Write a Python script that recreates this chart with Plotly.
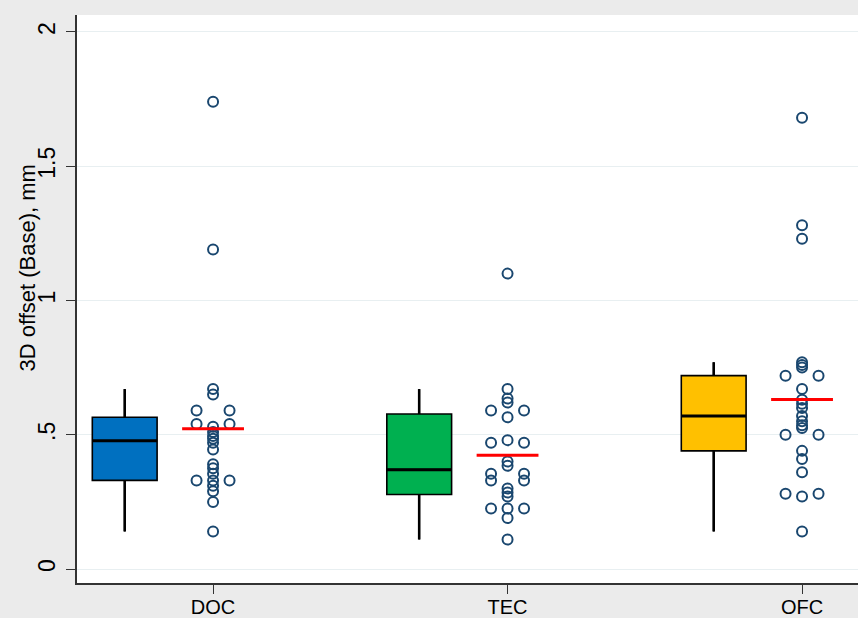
import math
import plotly.graph_objects as go

# Categories and per-subject 3D offsets (mm)
categories = ["DOC", "TEC", "OFC"]
doc_values = [1.74, 1.19, 0.67, 0.65, 0.59, 0.59, 0.54, 0.54, 0.53, 0.51, 0.495, 0.485,
              0.47, 0.445, 0.39, 0.375, 0.355, 0.33, 0.33, 0.33, 0.31, 0.29, 0.25, 0.14]
tec_values = [1.10, 0.67, 0.635, 0.62, 0.59, 0.59, 0.565, 0.48, 0.47, 0.47, 0.40, 0.385,
              0.355, 0.355, 0.33, 0.33, 0.30, 0.285, 0.27, 0.225, 0.225, 0.225, 0.19, 0.11]
ofc_values = [1.68, 1.28, 1.23, 0.77, 0.76, 0.75, 0.72, 0.72, 0.67, 0.63, 0.615, 0.60, 0.57,
              0.55, 0.535, 0.525, 0.50, 0.50, 0.44, 0.41, 0.36, 0.28, 0.28, 0.27, 0.14]
group_values = [doc_values, tec_values, ofc_values]
box_colors = ["#0070C0", "#00B050", "#FFC000"]

y_tick_vals = [0, 0.5, 1, 1.5, 2]
y_tick_text = ["0", ".5", "1", "1.5", "2"]
y_title = "3D offset (Base), mm"

DOT_COLOR = "#1a476f"
BOX_SHIFT = -0.30      # box drawn to the left of the strip of points
BOX_WIDTH = 0.22
MEAN_HALF = 0.105
TIE_STEP = 0.056


def pctile(vals, p):
    s = sorted(vals)
    n = len(s)
    pos = n * p
    if abs(pos - round(pos)) < 1e-9:
        k = int(round(pos))
        return (s[k - 1] + s[k]) / 2
    return s[math.ceil(pos) - 1]


def tie_offsets(vals):
    """Spread tied values side by side around the category centre."""
    counts = {}
    for v in vals:
        counts[v] = counts.get(v, 0) + 1
    used = {}
    out = []
    for v in vals:
        n = counts[v]
        if n % 2:
            slots = list(range(-(n // 2), n // 2 + 1))
        else:
            half = list(range(1, n // 2 + 1))
            slots = sorted([-h for h in half] + half)
        i = used.get(v, 0)
        used[v] = i + 1
        out.append(slots[i] * TIE_STEP)
    return out


fig = go.Figure()

for i, (vals, color) in enumerate(zip(group_values, box_colors)):
    cx = i + 1
    bx = cx + BOX_SHIFT
    q1 = pctile(vals, 0.25)
    med = pctile(vals, 0.50)
    q3 = pctile(vals, 0.75)
    iqr = q3 - q1
    upper = max(v for v in vals if v <= q3 + 1.5 * iqr)
    lower = min(v for v in vals if v >= q1 - 1.5 * iqr)

    fig.add_trace(go.Box(
        x=[bx], q1=[q1], median=[med], q3=[q3],
        lowerfence=[lower], upperfence=[upper],
        width=BOX_WIDTH, whiskerwidth=0, boxpoints=False,
        fillcolor=color, line=dict(color="black", width=1.6),
        hoverinfo="skip", showlegend=False,
    ))
    # heavier whiskers and median bar
    for y0, y1 in [(q3, upper), (lower, q1)]:
        fig.add_trace(go.Scatter(
            x=[bx, bx], y=[y0, y1], mode="lines",
            line=dict(color="black", width=2.6),
            hoverinfo="skip", showlegend=False,
        ))
    fig.add_trace(go.Scatter(
        x=[bx - BOX_WIDTH / 2, bx + BOX_WIDTH / 2], y=[med, med], mode="lines",
        line=dict(color="black", width=3),
        hoverinfo="skip", showlegend=False,
    ))

    # individual points
    offs = tie_offsets(vals)
    fig.add_trace(go.Scatter(
        x=[cx + o for o in offs], y=vals, mode="markers",
        marker=dict(symbol="circle-open", size=10, color=DOT_COLOR,
                    line=dict(color=DOT_COLOR, width=2)),
        showlegend=False,
    ))

    # mean bar
    mean = sum(vals) / len(vals)
    fig.add_trace(go.Scatter(
        x=[cx - MEAN_HALF, cx + MEAN_HALF], y=[mean, mean], mode="lines",
        line=dict(color="#FF0000", width=3),
        hoverinfo="skip", showlegend=False,
    ))

fig.update_layout(
    width=858, height=618,
    margin=dict(l=77, r=0, t=15, b=35),
    paper_bgcolor="#ebebeb",
    plot_bgcolor="white",
    font=dict(family="Liberation Sans, Arial, sans-serif", color="black"),
    showlegend=False,
    annotations=[dict(
        text=y_title, textangle=-90,
        xref="paper", yref="paper", x=-0.063, y=0.555,
        xanchor="center", yanchor="middle", showarrow=False,
        font=dict(size=22, color="black"),
    )],
)
fig.update_xaxes(
    range=[0.538, 3.19],
    tickvals=[1, 2, 3], ticktext=categories,
    tickfont=dict(size=20),
    ticklabelstandoff=-4,
    automargin=False,
    showgrid=False, zeroline=False,
    showline=True, linecolor="#333333", linewidth=1.5,
    ticks="outside", ticklen=9, tickcolor="#333333", tickwidth=1.2,
)
fig.update_yaxes(
    range=[-0.052, 2.063],
    tickvals=y_tick_vals, ticktext=y_tick_text,
    tickangle=-90, tickfont=dict(size=23),
    ticklabelstandoff=2,
    automargin=False,
    showgrid=True, gridcolor="#e8eff1", gridwidth=1.2,
    zeroline=False,
    showline=True, linecolor="#333333", linewidth=1.5,
    ticks="outside", ticklen=9, tickcolor="#333333", tickwidth=1.2,
)

fig.write_html("out.html")
